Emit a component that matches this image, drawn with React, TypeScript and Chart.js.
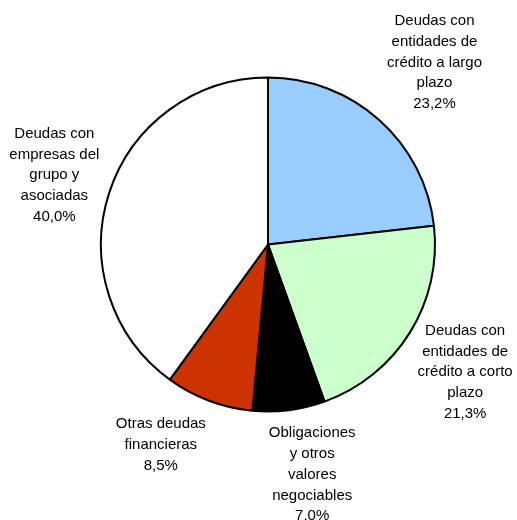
import React, { useEffect, useRef } from "react";
import { Chart, registerables } from "chart.js";

Chart.register(...registerables);

const categories: string[][] = [
  ["Deudas con", "entidades de", "crédito a largo", "plazo"],
  ["Deudas con", "entidades de", "crédito a corto", "plazo"],
  ["Obligaciones", "y otros", "valores", "negociables"],
  ["Otras deudas", "financieras"],
  ["Deudas con", "empresas del", "grupo y", "asociadas"],
];
const values: number[] = [23.2, 21.3, 7.0, 8.5, 40.0];
const valueLabels: string[] = ["23,2%", "21,3%", "7,0%", "8,5%", "40,0%"];
const colors: string[] = ["#99CCFF", "#CCFFCC", "#000000", "#CC3300", "#FFFFFF"];

// label placement: radial distance from centre and small nudges
const labelDist = [256, 238, 233, 224, 211];
const labelNudge: [number, number][] = [
  [-4, 9],
  [-5, 2],
  [15, -1],
  [-28, -9],
  [-13, -4],
];

const labelPlugin = {
  id: "outerLabels",
  afterDatasetsDraw(chart: any) {
    const ctx = chart.ctx;
    const meta = chart.getDatasetMeta(0);
    ctx.save();
    ctx.font = "15px 'Liberation Sans', Arial, sans-serif";
    ctx.fillStyle = "#000";
    ctx.textAlign = "center";
    ctx.textBaseline = "middle";
    const lh = 20.7;
    meta.data.forEach((arc: any, i: number) => {
      const p = arc.getProps(["x", "y", "startAngle", "endAngle"], true);
      const mid = (p.startAngle + p.endAngle) / 2;
      const cx = p.x + labelDist[i] * Math.cos(mid) + labelNudge[i][0];
      const cy = p.y + labelDist[i] * Math.sin(mid) + labelNudge[i][1];
      const lines = [...categories[i], valueLabels[i]];
      const n = lines.length;
      lines.forEach((t, j) => {
        ctx.fillText(t, cx, cy + (j - (n - 1) / 2) * lh);
      });
    });
    ctx.restore();
  },
};

export default function App() {
  const ref = useRef<HTMLCanvasElement>(null);
  useEffect(() => {
    if (!ref.current) return;
    const chart = new Chart(ref.current, {
      type: "pie",
      data: {
        labels: categories.map((c) => c.join(" ")),
        datasets: [
          {
            data: values,
            backgroundColor: colors,
            borderColor: "#000000",
            borderWidth: 2,
          },
        ],
      },
      options: {
        responsive: false,
        animation: false,
        layout: { padding: { left: 100, right: 81, top: 76.5, bottom: 107.5 } },
        plugins: {
          legend: { display: false },
          tooltip: { enabled: false },
        },
      },
      plugins: [labelPlugin],
    });
    return () => chart.destroy();
  }, []);
  return (
    <div style={{ position: "fixed", left: 0, top: 0, width: 517, height: 520, background: "#fff" }}>
      <canvas ref={ref} width={517} height={520} />
    </div>
  );
}
